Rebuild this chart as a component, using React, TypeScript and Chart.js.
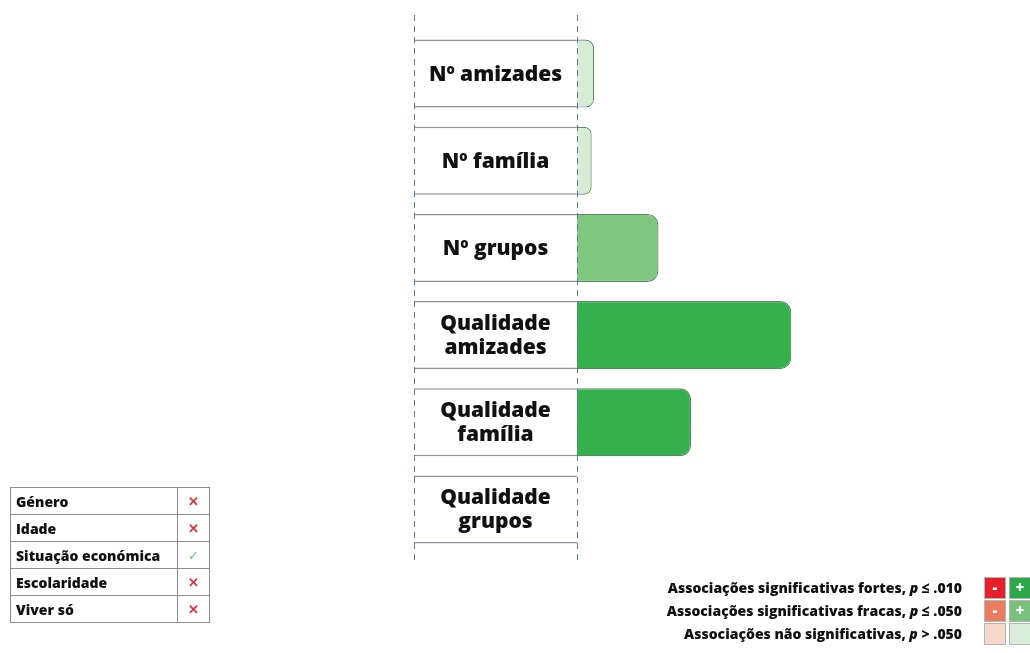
import React, { useEffect, useRef } from "react";
import { Chart, registerables } from "chart.js";

Chart.register(...registerables);

const categories = [
  "Nº amizades",
  "Nº família",
  "Nº grupos",
  "Qualidade\namizades",
  "Qualidade\nfamília",
  "Qualidade\ngrupos",
];
const values = [0.021, 0.018, 0.1, 0.263, 0.14, 0];
// significance level: 0 = não significativa, 1 = fraca, 2 = forte
const significance = [0, 0, 1, 2, 2, 0];
const labelBox = [-0.2, 0];

const covariates = ["Género", "Idade", "Situação económica", "Escolaridade", "Viver só"];
const covariateSignificant = [false, false, true, false, false];

const legendRows = [
  { text: "Associações significativas fortes, ", op: "≤ .010", neg: "#e3202b", pos: "#2fa84a", sign: true },
  { text: "Associações significativas fracas, ", op: "≤ .050", neg: "#ea7c62", pos: "#79c27c", sign: true },
  { text: "Associações não significativas, ", op: "> .050", neg: "#f8d8ca", pos: "#d9eed8", sign: false },
];

const fillBySig = ["#d6ecd5", "#80c87f", "#34b14c"];
const FONT = "'Open Sans', 'Noto Sans', sans-serif";

const guidePlugin = {
  id: "guides",
  afterDatasetsDraw(chart: any) {
    const { ctx, scales } = chart;
    const x = scales.x;
    const y = scales.y;
    ctx.save();
    // label texts
    const xc = (x.getPixelForValue(labelBox[0]) + x.getPixelForValue(labelBox[1])) / 2;
    ctx.fillStyle = "#111";
    ctx.font = `800 21px ${FONT}`;
    ctx.textAlign = "center";
    ctx.textBaseline = "middle";
    categories.forEach((c, i) => {
      const yc = y.getPixelForValue(i);
      const lines = c.split("\n");
      const lh = 24;
      lines.forEach((ln, k) => {
        ctx.fillText(ln, xc, yc + 1 + (k - (lines.length - 1) / 2) * lh);
      });
    });
    // dashed guides
    ctx.strokeStyle = "#5c74b3";
    ctx.lineWidth = 1;
    ctx.setLineDash([6, 5]);
    labelBox.forEach((v) => {
      const px = Math.round(x.getPixelForValue(v)) + 0.5;
      ctx.beginPath();
      ctx.moveTo(px, chart.chartArea.top - 15);
      ctx.lineTo(px, chart.chartArea.bottom + 10);
      ctx.stroke();
    });
    ctx.restore();
  },
};

function BarChart() {
  const ref = useRef<HTMLCanvasElement>(null);
  useEffect(() => {
    const chart = new Chart(ref.current!, {
      type: "bar",
      data: {
        labels: categories,
        datasets: [
          {
            data: categories.map(() => labelBox as any),
            backgroundColor: "#ffffff",
            borderColor: "#8d929c",
            borderWidth: { top: 1.5, bottom: 1.5, left: 0, right: 0 } as any,
            borderSkipped: false,
            grouped: false,
            barPercentage: 0.78,
            categoryPercentage: 1,
          } as any,
          {
            data: values,
            backgroundColor: significance.map((s) => fillBySig[s]),
            borderColor: "#5b8a62",
            borderWidth: 1.2,
            borderSkipped: "start",
            borderRadius: { topRight: 11, bottomRight: 11, topLeft: 0, bottomLeft: 0 },
            grouped: false,
            barPercentage: 0.78,
            categoryPercentage: 1,
          } as any,
        ],
      },
      options: {
        indexAxis: "y",
        responsive: false,
        animation: false,
        layout: { padding: { left: 414, right: 208.5, top: 30, bottom: 100 } },
        plugins: { legend: { display: false }, tooltip: { enabled: false } },
        scales: {
          x: { type: "linear", min: -0.2, max: 0.3, display: false },
          y: { type: "category", display: false, offset: true },
        },
      },
      plugins: [guidePlugin],
    });
    return () => chart.destroy();
  }, []);
  return <canvas ref={ref} width={1030} height={653} style={{ position: "absolute", left: 0, top: 0 }} />;
}

export default function App() {
  return (
    <div
      style={{
        position: "fixed",
        left: 0,
        top: 0,
        width: 1030,
        height: 653,
        overflow: "hidden",
        background: "#fff",
        fontFamily: FONT,
      }}
    >
      <BarChart />
      <table
        style={{
          position: "absolute",
          left: 10,
          top: 487,
          width: 200,
          borderCollapse: "collapse",
          fontSize: 14,
          fontWeight: 800,
          color: "#111",
        }}
      >
        <tbody>
          {covariates.map((c, i) => (
            <tr key={c} style={{ height: 27 }}>
              <td style={{ border: "1px solid #8d8d8d", padding: "0 5px", width: 156, whiteSpace: "nowrap" }}>{c}</td>
              <td
                style={{
                  border: "1px solid #8d8d8d",
                  textAlign: "center",
                  color: covariateSignificant[i] ? "#6cbf6c" : "#d9363e",
                  fontWeight: covariateSignificant[i] ? 400 : 700,
                  fontSize: 13,
                }}
              >
                {covariateSignificant[i] ? "✓" : "✕"}
              </td>
            </tr>
          ))}
        </tbody>
      </table>
      {legendRows.map((r, i) => (
        <div key={i} style={{ position: "absolute", top: 577 + i * 23, left: 0, width: 1030, height: 22 }}>
          <div
            style={{
              position: "absolute",
              right: 1030 - 962,
              top: 0,
              lineHeight: "22px",
              fontSize: 14,
              fontWeight: 800,
              color: "#111",
              whiteSpace: "nowrap",
            }}
          >
            {r.text}
            <i>p</i> {r.op}
          </div>
          {[r.neg, r.pos].map((col, k) => (
            <div
              key={k}
              style={{
                position: "absolute",
                left: 984 + k * 25,
                top: 0,
                width: 20,
                height: 20,
                background: col,
                border: "1px solid #b5b5b5",
                color: "#fff",
                fontWeight: 800,
                fontSize: 15,
                lineHeight: "19px",
                textAlign: "center",
              }}
            >
              {r.sign ? (k === 0 ? "-" : "+") : ""}
            </div>
          ))}
        </div>
      ))}
    </div>
  );
}
